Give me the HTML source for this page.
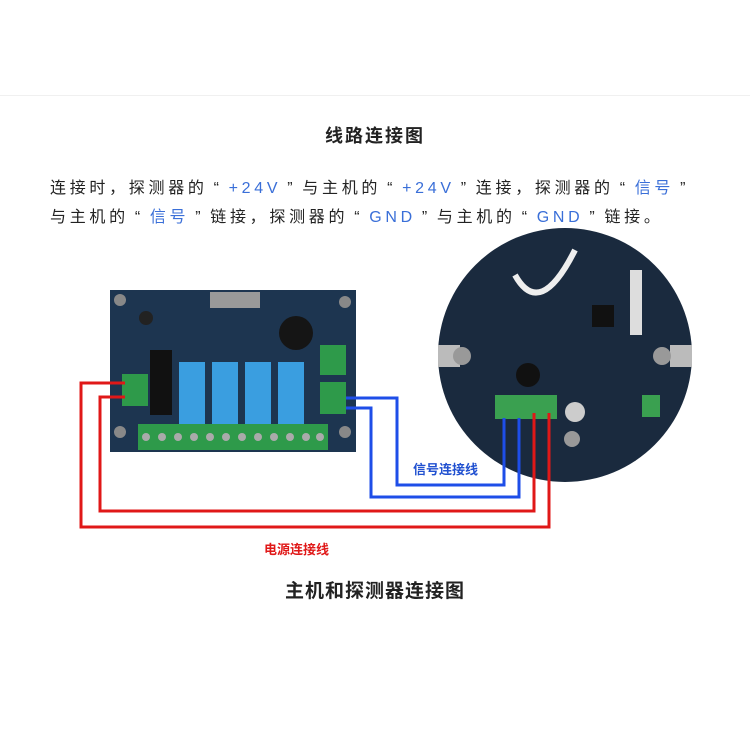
<!DOCTYPE html>
<html><head><meta charset="utf-8"><style>
body{margin:0;width:750px;height:750px;background:#fff;overflow:hidden;position:relative;font-family:"Liberation Sans","Noto Sans CJK SC",sans-serif}
.t{position:absolute;white-space:nowrap;color:#222}
.b{color:#3a6fd8}
.q{display:inline-block;margin:0 6px}
</style></head><body>
<div style="position:absolute;left:0;top:95px;width:750px;height:1px;background:#f0f0f0"></div>
<div class="t" style="left:0;width:750px;text-align:center;top:122px;font-size:18px;font-weight:bold;letter-spacing:2px">线路连接图</div>
<div class="t" style="left:50px;top:174px;font-size:16px;letter-spacing:3.7px">连接时，探测器的<span class="q">“</span><span class="b">+24V</span><span class="q">”</span>与主机的<span class="q">“</span><span class="b">+24V</span><span class="q">”</span>连接，探测器的<span class="q">“</span><span class="b">信号</span><span class="q">”</span></div>
<div class="t" style="left:50px;top:203px;font-size:16px;letter-spacing:3.7px">与主机的<span class="q">“</span><span class="b">信号</span><span class="q">”</span>链接，探测器的<span class="q">“</span><span class="b">GND</span><span class="q">”</span>与主机的<span class="q">“</span><span class="b">GND</span><span class="q">”</span>链接。</div>
<svg width="750" height="750" style="position:absolute;left:0;top:0">
<rect x="110" y="290" width="246" height="162" fill="#1d3550"/>
<rect x="210" y="292" width="50" height="16" fill="#999"/>
<circle cx="120" cy="300" r="6" fill="#888"/><circle cx="345" cy="302" r="6" fill="#888"/>
<circle cx="120" cy="432" r="6" fill="#888"/><circle cx="345" cy="432" r="6" fill="#888"/>
<circle cx="296" cy="333" r="17" fill="#151515"/>
<circle cx="146" cy="318" r="7" fill="#222"/>
<rect x="150" y="350" width="22" height="65" fill="#111"/>
<rect x="179" y="362" width="26" height="62" fill="#3a9ee0"/>
<rect x="212" y="362" width="26" height="62" fill="#3a9ee0"/>
<rect x="245" y="362" width="26" height="62" fill="#3a9ee0"/>
<rect x="278" y="362" width="26" height="62" fill="#3a9ee0"/>
<rect x="138" y="424" width="190" height="26" fill="#2e9a4a"/>
<g fill="#aaa"><circle cx="146" cy="437" r="4"/><circle cx="162" cy="437" r="4"/><circle cx="178" cy="437" r="4"/><circle cx="194" cy="437" r="4"/><circle cx="210" cy="437" r="4"/><circle cx="226" cy="437" r="4"/><circle cx="242" cy="437" r="4"/><circle cx="258" cy="437" r="4"/><circle cx="274" cy="437" r="4"/><circle cx="290" cy="437" r="4"/><circle cx="306" cy="437" r="4"/><circle cx="320" cy="437" r="4"/></g>
<rect x="122" y="374" width="26" height="32" fill="#2e9a4a"/>
<rect x="320" y="345" width="26" height="30" fill="#2e9a4a"/>
<rect x="320" y="382" width="26" height="32" fill="#2e9a4a"/>
<circle cx="565" cy="355" r="127" fill="#1a2a3e"/>
<rect x="438" y="345" width="22" height="22" fill="#bbb"/>
<rect x="670" y="345" width="22" height="22" fill="#bbb"/>
<circle cx="462" cy="356" r="9" fill="#999"/><circle cx="662" cy="356" r="9" fill="#999"/>
<circle cx="572" cy="439" r="8" fill="#999"/>
<rect x="630" y="270" width="12" height="65" fill="#ddd"/>
<path d="M515 275 Q540 320 575 250" stroke="#eee" stroke-width="6" fill="none"/>
<rect x="592" y="305" width="22" height="22" fill="#111"/>
<circle cx="528" cy="375" r="12" fill="#111"/>
<circle cx="575" cy="412" r="10" fill="#ccc"/>
<rect x="495" y="395" width="62" height="24" fill="#3aa050"/>
<rect x="642" y="395" width="18" height="22" fill="#3aa050"/>
<g fill="none" stroke-width="3">
<path d="M125 383 H81 V527 H549 V413" stroke="#e01818"/>
<path d="M125 397 H100 V511 H534 V413" stroke="#e01818"/>
<path d="M346 398 H397 V485 H504 V418" stroke="#1e4ee8"/>
<path d="M346 408 H371 V497 H519 V418" stroke="#1e4ee8"/>
</g>
</svg>
<div class="t" style="left:413px;top:459px;font-size:13px;font-weight:bold;color:#2050d0">信号连接线</div>
<div class="t" style="left:264px;top:539px;font-size:13px;font-weight:bold;color:#e01818">电源连接线</div>
<div class="t" style="left:0;width:750px;text-align:center;top:576px;font-size:19px;font-weight:bold;letter-spacing:1px">主机和探测器连接图</div>
</body></html>
